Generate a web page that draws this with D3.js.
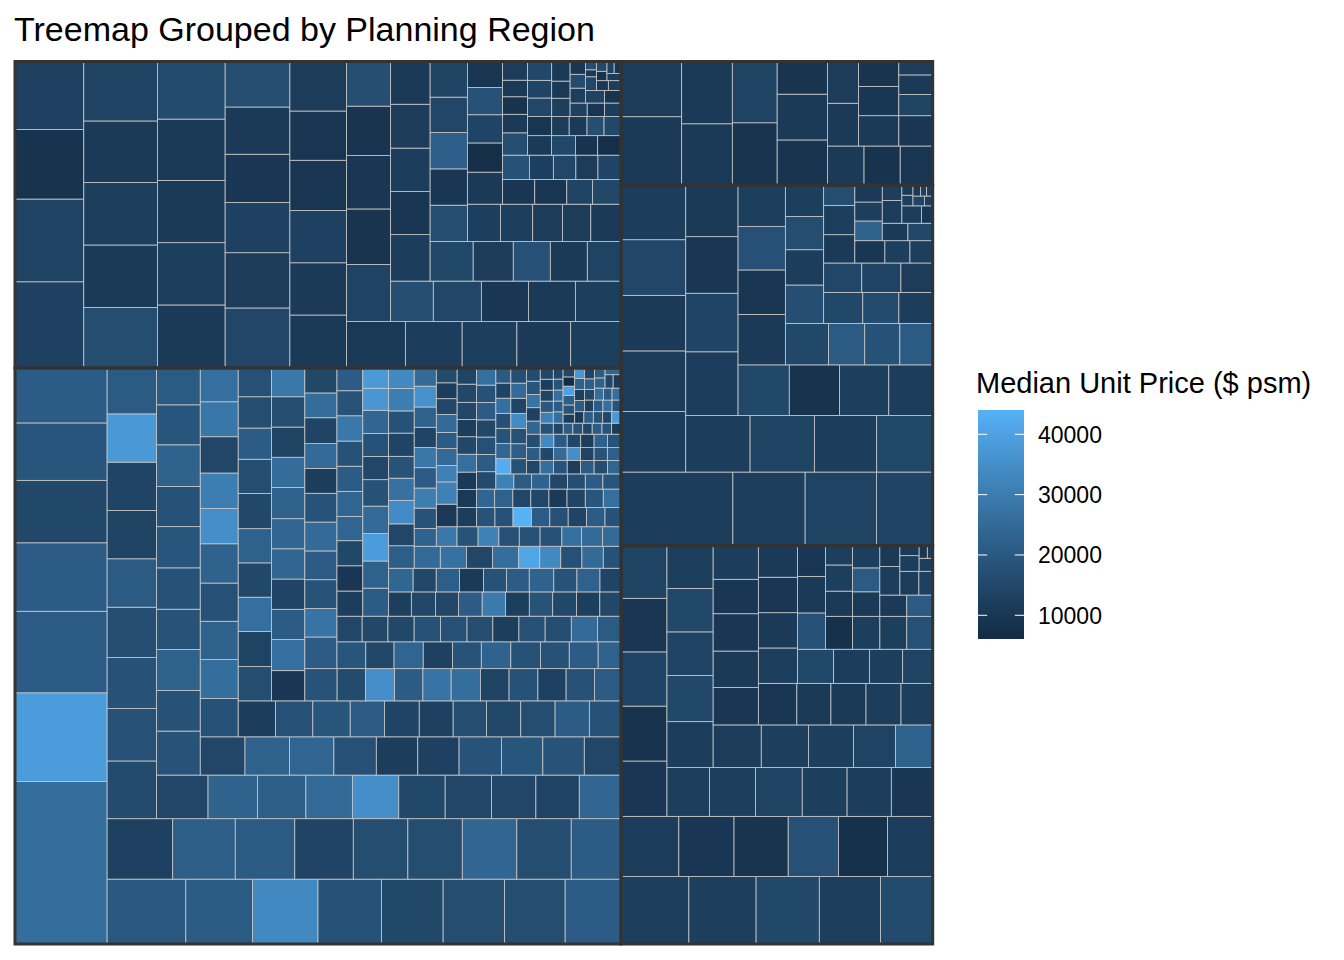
<!DOCTYPE html>
<html>
<head>
<meta charset="utf-8">
<script src="https://cdn.jsdelivr.net/npm/d3@7"></script>
<style>
  body { margin: 0; background: #ffffff; }
  text { font-family: "Liberation Sans", Arial, Helvetica, sans-serif; fill: #000; }
</style>
</head>
<body>
<svg id="chart" width="1344" height="960"></svg>
<script>
// ---------------- DATA ----------------
const regions = ["Central Region", "North-East Region", "East Region", "West Region", "North Region"];

// Central Region: tile size (relative transaction count) and median unit price ($ psm)
const centralSize = [
14736, 8034, 7395, 6208, 5661, 5204, 4985,
5023, 4250, 4186, 4057, 3930, 3925, 3864, 3568,
3900, 3720, 3540, 3480, 3245, 3238, 3242, 3236, 2964,
2808, 2548, 2484, 2450, 2355, 2350, 2352, 2348, 2234,
2208, 2122, 2078, 1995, 1990, 1992, 1988, 1905, 1862, 1793,
1892, 1745, 1762, 1732, 1778, 1772, 1730, 1788, 1719, 1585,
1683, 1675, 1670, 1596, 1560, 1555, 1594, 1557, 1561, 1383,
1429, 1455, 1432, 1426, 1466, 1316, 1327, 1354, 1305, 1263,
1321, 1318, 1324, 1214, 1228, 1200, 1178, 1212, 1216, 1213, 1121,
1122, 1155, 1120, 1124, 1121, 1155, 1119, 1023, 1025, 944,
990, 1023, 988, 992, 990, 987, 1023, 991, 989, 993, 944,
1024, 896, 928, 897, 895, 928, 909, 915, 894, 898, 845,
1000, 901, 911, 909, 913, 910, 785, 787, 816, 784, 790,
761, 745, 771, 769, 763, 779, 782, 760, 763, 604,
635, 650, 660, 662, 671, 650, 658, 661, 659, 660, 594,
640, 642, 638, 614, 641, 639, 640, 643, 637, 579,
713, 689, 699, 696, 672, 590, 583, 590, 558, 517,
543, 575, 550, 568, 558, 568, 558, 568, 558, 508,
571, 538, 540, 562, 536, 529, 571, 539, 537, 491,
566, 551, 592, 559, 551, 584, 559, 566, 516,
564, 566, 563, 565, 456, 455, 457, 462, 384,
389, 440, 438, 442, 440, 439, 441, 453, 396,
398, 405, 400, 392, 400, 419, 378, 405, 355,
462, 455, 337, 346, 331, 366, 325, 325, 304,
369, 348, 342, 348, 350, 348, 348, 350, 304,
341, 334, 341, 334, 328, 328, 347, 309,
328, 330, 325, 329, 327, 331, 326, 322,
330, 328, 331, 327, 332, 329, 326,
268, 265, 270, 264, 266, 262, 271,
226, 222, 225, 221, 224, 223, 223,
233, 229, 235, 230, 231, 232, 232,
181, 178, 180, 176, 179, 177, 179,
172, 169, 173, 170, 171, 168, 173,
183, 179, 182, 180, 181, 180,
180, 176, 179, 177, 178, 179,
142, 139, 143, 140, 141, 144,
108, 104, 107, 103, 106, 105, 102, 109, 104, 106, 105, 107, 103, 104, 108, 106, 105, 102, 104, 107, 106,
103, 105, 108, 104, 106, 102, 105, 107, 104, 103, 106, 105, 108, 104, 102, 106, 105, 103, 107, 104, 106
];
const centralPrice = [
26000, 38500, 21000, 21000, 15000, 19000, 21000,
19500, 20500, 33500, 18000, 15000, 16500, 16500, 21000,
13000, 21500, 20500, 14000, 16500, 16500, 24000, 16500, 21000,
16000, 17500, 18000, 17000, 20500, 13500, 14000, 37500, 20500,
14500, 23000, 21500, 25000, 35000, 15000, 14500, 14500, 13500, 24000,
18500, 18000, 22500, 18500, 18000, 19000, 18000, 23000, 19000, 20500,
14500, 22500, 23500, 17500, 12000, 13000, 18500, 19000, 18500, 14500,
18000, 26000, 22500, 17500, 23000, 35000, 30500, 14500, 28500, 26500,
12000, 17500, 19000, 21000, 14000, 13000, 16500, 15000, 16500, 21000, 18000,
16500, 13500, 26500, 15000, 22500, 15000, 16500, 21000, 16500, 17500,
10000, 26500, 21000, 14000, 23500, 24000, 22500, 25500, 13500, 16500, 29000,
18500, 16000, 35000, 21000, 27500, 26000, 13500, 18000, 13000, 18000, 20500,
21000, 27500, 18500, 21000, 25000, 18500, 12000, 25000, 14000, 25500, 15000,
19000, 14500, 23500, 13000, 18500, 23000, 18000, 18000, 21000, 22500,
14500, 15000, 15000, 18000, 17500, 16500, 12500, 17500, 16500, 25000, 20500,
12000, 10000, 15000, 23500, 23500, 21000, 18000, 29000, 18500, 21000,
21000, 22500, 38500, 25000, 18000, 14500, 18000, 24000, 37000, 38000,
12500, 14500, 14500, 21000, 29500, 12500, 18500, 15000, 12500, 15000,
24000, 15000, 21500, 11000, 18000, 21000, 23000, 18500, 22500, 14000,
21500, 14500, 34000, 27000, 18500, 14000, 18000, 30500, 33500,
25000, 27000, 14500, 26000, 41000, 33500, 17500, 25000, 18000,
23000, 18500, 30500, 21000, 28500, 14000, 22500, 35500, 25000,
29000, 18500, 31500, 17500, 17500, 17500, 26500, 25000, 25000,
10500, 31500, 31500, 25000, 21000, 25000, 14500, 12000, 16000,
12000, 18500, 17500, 44030, 21000, 17500, 14000, 21000, 18000,
10500, 11000, 26500, 15000, 12000, 14500, 15000, 14000,
24000, 22500, 14500, 14500, 11000, 14000, 19000, 26500,
16000, 21000, 17500, 15000, 21000, 18000, 26500,
31500, 20500, 23000, 14500, 17000, 21000, 19000,
43000, 24000, 18500, 17500, 26500, 13500, 20500,
18000, 21500, 17500, 34000, 14000, 25000, 17000,
14500, 26000, 18500, 12000, 21000, 16500, 24000,
21000, 15000, 25000, 34500, 13500, 18500, 22000,
17000, 23500, 13000, 27500, 19000, 16000,
33500, 20500, 14500, 12000, 22500, 18000,
17500, 31000, 19500, 13500, 12000, 14500,
14500, 21000, 18500, 14500, 21000, 18500, 11000, 26500, 21000, 26500, 18500, 14500, 12000, 18500, 21500, 40000, 6070, 14500, 11000, 21000, 18500,
14500, 38000, 21000, 12500, 22500, 37000, 12500, 21000, 26500, 18500, 15000, 21500, 14500, 26500, 21000, 26500, 22500, 21000, 14500, 11000, 24000
];

// North-East Region
const northEastSize = [
5833, 5601, 4713, 4597,
4380, 4526, 4530, 4453, 4307,
4200, 4154, 4150, 4087, 3839,
3821, 3520, 3200, 3072, 3008, 2899,
2951, 2912, 2915, 2800, 2744, 2761,
2685, 2593, 2500, 2454, 2300,
2478, 2404, 2316, 2141, 1936,
1700, 1913, 1872, 1870, 1819,
1808, 1674, 1690, 1706, 1662,
1677, 1560, 1443, 1440, 1314,
1332, 1330, 1334, 1295, 1306,
1215, 1185, 1096, 1038,
1112, 1110, 1011, 977, 944,
900, 783, 780, 629,
692, 642, 572, 538, 528,
552, 550, 456, 432, 408,
460, 458, 461, 426,
449, 453, 440, 418,
447, 330, 336, 321,
321, 331, 310,
355, 227, 229, 219,
225, 209, 193, 232, 204, 150, 76, 90, 116, 124, 97, 101, 98, 85, 82
];
const northEastPrice = [
13000, 13500, 8500, 13000,
16500, 11000, 12500, 11000, 13500,
11000, 12500, 11000, 11000, 16000,
14500, 11500, 13000, 10000, 11000, 16500,
10500, 11000, 13000, 9500, 9500, 11500,
10500, 12000, 12500, 11000, 12500,
13500, 9000, 10000, 9000, 17000,
17000, 14500, 10000, 11000, 12500,
12000, 9500, 12000, 11500, 11000,
15000, 11500, 17500, 11000, 13500,
16500, 10000, 22000, 14500, 13500,
12500, 12500, 11500, 11500,
11000, 11000, 7500, 14000, 18000,
9500, 10000, 9500, 14000,
15000, 18000, 12500, 14500, 11500,
14000, 16500, 11000, 8500, 10500,
11500, 11000, 15000, 8500,
7500, 9500, 14500, 14000,
15000, 11500, 11000, 17000,
15000, 12500, 10500,
11000, 13000, 9500, 12000,
12500, 16000, 10000, 13500, 9000, 14500, 11000, 17000, 10500, 12000, 8500, 15500, 11500, 13000, 9500
];

// East Region
const eastSize = [
4502, 4462, 4196, 4063, 3463,
3421, 3267, 3208, 2970, 2911, 2673,
2500, 2480, 2450, 2420, 2380,
2050, 2205, 2251, 2156, 2127, 1989,
2084, 2102, 1978, 1975, 1946,
2016, 1974, 1890, 1764, 1554,
1665, 1620, 1662, 1530, 1499,
1574, 1394, 1435, 1432, 1296,
1365, 1362, 1368, 1221,
1210, 1207, 1109, 1008,
1000, 1008, 848,
874, 884, 870, 840,
668, 694, 514,
658, 642, 598,
563, 543,
563, 413,
443, 323, 296, 190, 174, 102, 67
];
const eastPrice = [
12500, 12500, 15000, 12500, 16000,
12000, 10000, 9000, 17500, 8000, 12000,
10000, 8500, 14000, 9500, 13500,
12500, 12500, 13500, 12500, 12000, 10000,
12000, 15000, 13500, 15000, 12500,
11500, 12500, 12500, 13500, 22500,
10000, 11000, 10000, 10000, 12000,
10000, 11000, 11000, 12000, 12500,
12500, 11000, 10000, 11000,
15000, 12000, 12500, 13500,
17500, 11000, 10000,
8000, 12500, 12500, 17500,
11000, 12500, 12500,
11000, 20500, 12500,
11000, 20500,
12000, 10500,
11500, 13000, 12000, 11000, 12500, 10000, 11500
];

// West Region
const westSize = [
8092, 5234, 5162, 4071,
3858, 3850, 3537, 3540, 3472,
3584, 3580, 3472, 3119,
3276, 3016, 2912, 2652,
2550, 2500, 2450, 2185,
2350, 2068, 2021, 1927,
1763, 1476, 1435, 1341,
1444, 1330, 1254, 1178,
1193, 1102, 1031,
1102, 1131, 919,
868, 899, 620,
660, 550, 499,
532, 513,
456, 440, 425,
441, 294,
336, 192,
116, 110, 110, 80, 80, 66, 65
];
const westPrice = [
12000, 12500, 13500, 14000,
12000, 11500, 11000, 14500, 12000,
12000, 13500, 12000, 15000,
12000, 14000, 10000, 11000,
15000, 8500, 12500, 12000,
11000, 9500, 17500, 12500,
15000, 20500, 18000, 20500,
17000, 12000, 16500, 12500,
15000, 16000, 12000,
14500, 13500, 11500,
11000, 12500, 16500,
10000, 12500, 12500,
23000, 12500,
11000, 11000, 15000,
12000, 12500,
11500, 10000,
12500, 11000, 14000, 12000, 10500, 13000, 11500
];

// North Region
const northSize = [4082, 3292, 3059, 3105, 2752, 2703, 2235, 2265, 1615, 1409, 1393, 1250, 1311, 1280, 1200, 1011, 1160, 984, 708, 652, 447];
const northPrice = [10500, 11500, 10500, 11000, 9000, 13500, 9000, 11000, 9000, 11000, 8500, 9500, 11000, 11500, 11000, 10000, 10000, 9000, 13500, 11000, 12000];

const legendTicks = [10000, 20000, 30000, 40000];

// ---------------- LAYOUT ----------------
const svg = d3.select("#chart");
const groups = [
  { region: regions[0], size: centralSize,   price: centralPrice },
  { region: regions[1], size: northEastSize, price: northEastPrice },
  { region: regions[2], size: eastSize,      price: eastPrice },
  { region: regions[3], size: westSize,      price: westPrice },
  { region: regions[4], size: northSize,     price: northPrice }
];
const root = d3.hierarchy({
  name: "Singapore",
  children: groups.map(g => ({
    region: g.region,
    children: d3.zip(g.size, g.price).map(([s, p], i) => ({ name: g.region + " " + (i + 1), size: s, price: p }))
  }))
}).sum(d => d.size || 0);

// squarified tiling, with rows and columns tuned slightly differently (as in treemapify's output)
const R_ROW = 1.05, R_COL = 1.019;
function tileSquarified(parent, x0, y0, x1, y1) {
  const nodes = parent.children, n = nodes.length;
  let value = parent.value, i0 = 0, i1 = 0;
  while (i0 < n) {
    const dx = x1 - x0, dy = y1 - y0, dice = dx < dy, r = dice ? R_ROW : R_COL;
    const alpha = Math.max(dy / dx, dx / dy) / value;
    let sumValue = nodes[i1++].value, minValue = sumValue, maxValue = sumValue;
    let beta = sumValue * sumValue * alpha;
    let minRatio = Math.max(r * maxValue / beta, beta / (r * minValue));
    for (; i1 < n; ++i1) {
      const v = nodes[i1].value;
      sumValue += v;
      if (v < minValue) minValue = v;
      if (v > maxValue) maxValue = v;
      beta = sumValue * sumValue * alpha;
      const newRatio = Math.max(r * maxValue / beta, beta / (r * minValue));
      if (newRatio > minRatio) { sumValue -= v; break; }
      minRatio = newRatio;
    }
    const row = { value: sumValue, children: nodes.slice(i0, i1) };
    if (dice) d3.treemapDice(row, x0, y0, x1, value ? (y0 += dy * sumValue / value) : y1);
    else d3.treemapSlice(row, x0, y0, value ? (x0 += dx * sumValue / value) : x1, y1);
    value -= sumValue; i0 = i1;
  }
}
// layout in unit space (origin bottom-left), then stretched onto the panel
d3.treemap().tile(tileSquarified).size([1, 1])(root);

const x = d3.scaleLinear().domain([0, 1]).range([15, 932.7]);
const y = d3.scaleLinear().domain([0, 1]).range([944, 61.5]);
const [pMin, pMax] = d3.extent(groups.flatMap(g => g.price));
const fill = d3.scaleLinear().domain([pMin, pMax]).range(["#132B43", "#56B1F7"]).interpolate(d3.interpolateLab);

svg.append("g")
  .selectAll("rect")
  .data(root.leaves())
  .join("rect")
  .attr("x", d => x(d.x0))
  .attr("y", d => y(d.y1))
  .attr("width", d => x(d.x1) - x(d.x0))
  .attr("height", d => y(d.y0) - y(d.y1))
  .attr("fill", d => fill(d.data.price))
  .attr("stroke", "#c8c8c8")
  .attr("stroke-width", 0.8);

svg.append("g")
  .selectAll("rect")
  .data(root.children)
  .join("rect")
  .attr("x", d => x(d.x0))
  .attr("y", d => y(d.y1))
  .attr("width", d => x(d.x1) - x(d.x0))
  .attr("height", d => y(d.y0) - y(d.y1))
  .attr("fill", "none")
  .attr("stroke", "#333333")
  .attr("stroke-width", 3);

// title
svg.append("text")
  .attr("x", 14)
  .attr("y", 41)
  .attr("font-size", 34)
  .text("Treemap Grouped by Planning Region");

// colourbar legend
const barX = 978, barW = 46, barTop = 410, barBottom = 639;
const ly = d3.scaleLinear().domain([pMin, pMax]).range([barBottom, barTop]);
const grad = svg.append("defs").append("linearGradient")
  .attr("id", "pricegrad")
  .attr("x1", 0).attr("y1", 1).attr("x2", 0).attr("y2", 0);
d3.range(0, 1.0001, 0.05).forEach(t => {
  grad.append("stop").attr("offset", t).attr("stop-color", fill(pMin + t * (pMax - pMin)));
});
svg.append("rect")
  .attr("x", barX).attr("y", barTop)
  .attr("width", barW).attr("height", barBottom - barTop)
  .attr("fill", "url(#pricegrad)");

const tickG = svg.append("g");
legendTicks.forEach(t => {
  const ty = ly(t);
  tickG.append("line").attr("x1", barX).attr("x2", barX + barW / 5)
    .attr("y1", ty).attr("y2", ty).attr("stroke", "#ffffff").attr("stroke-width", 1);
  tickG.append("line").attr("x1", barX + barW * 4 / 5).attr("x2", barX + barW)
    .attr("y1", ty).attr("y2", ty).attr("stroke", "#ffffff").attr("stroke-width", 1);
  tickG.append("text").attr("x", 1038).attr("y", ty + 8.5).attr("font-size", 23).text(t);
});

svg.append("text")
  .attr("x", 976)
  .attr("y", 393)
  .attr("font-size", 29)
  .text("Median Unit Price ($ psm)");
</script>
</body>
</html>
